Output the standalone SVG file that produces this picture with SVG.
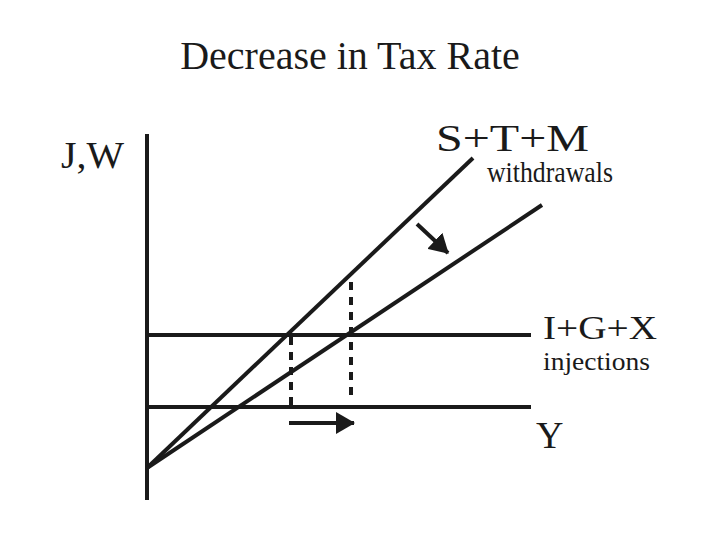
<svg xmlns="http://www.w3.org/2000/svg" width="720" height="540" viewBox="0 0 720 540">
<defs>
<style>
text{font-family:"Liberation Serif","Times New Roman",serif;fill:#1a1a1a}
.ln{stroke:#1a1a1a;stroke-width:4;fill:none}
.dash{stroke:#1a1a1a;stroke-width:4;stroke-dasharray:8 7;fill:none}
</style>
<marker id="ah" markerUnits="userSpaceOnUse" markerWidth="20" markerHeight="22" refX="18" refY="11" orient="auto">
<path d="M0,0 L19,11 L0,22 Z" fill="#1a1a1a"/>
</marker>
</defs>
<rect width="720" height="540" fill="#fff"/>
<text x="350" y="69" font-size="40" text-anchor="middle">Decrease in Tax Rate</text>
<g id="axis">
<line class="ln" x1="147" y1="134" x2="147" y2="500"/>
</g>
<g id="labels">
<text x="61" y="168" font-size="37" textLength="63" lengthAdjust="spacingAndGlyphs">J,W</text>
<text x="436" y="151" font-size="37" textLength="153" lengthAdjust="spacingAndGlyphs">S+T+M</text>
<text x="487" y="182" font-size="30" textLength="126" lengthAdjust="spacingAndGlyphs">withdrawals</text>
<text x="543" y="339" font-size="34" textLength="114" lengthAdjust="spacingAndGlyphs">I+G+X</text>
<text x="543" y="370" font-size="26" textLength="107" lengthAdjust="spacingAndGlyphs">injections</text>
<text x="536" y="448" font-size="38">Y</text>
</g>
<g id="connectors">
<line class="ln" x1="147" y1="335" x2="531" y2="335"/>
<line class="ln" x1="147" y1="407" x2="531" y2="407"/>
<line class="ln" x1="147" y1="468" x2="473" y2="158"/>
<line class="ln" x1="147" y1="468" x2="542" y2="205"/>
<line class="dash" x1="291" y1="337" x2="291" y2="408"/>
<line class="dash" x1="351" y1="282" x2="351" y2="398"/>
<line class="ln" x1="289" y1="423" x2="354" y2="423" marker-end="url(#ah)"/>
<line class="ln" x1="417" y1="224" x2="448" y2="253" marker-end="url(#ah)"/>
</g>
</svg>
